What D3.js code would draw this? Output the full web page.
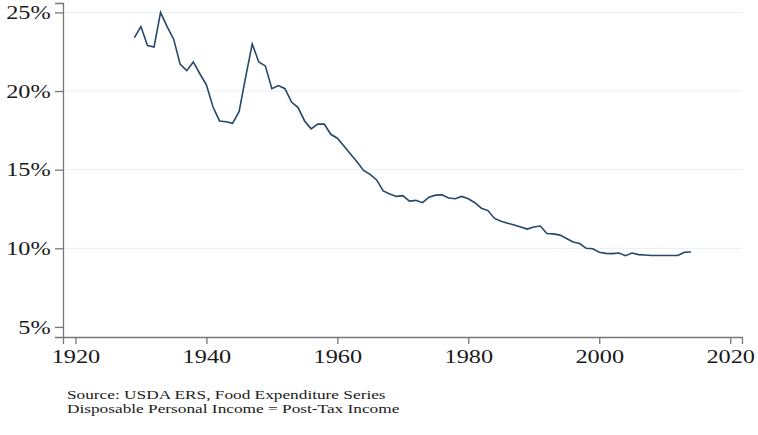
<!DOCTYPE html>
<html lang="en">
<head>
    <meta charset="UTF-8">
    <title>Food Expenditure Share of Disposable Income</title>
    <script src="https://d3js.org/d3.v7.min.js"></script>
    <style>
        body {
            margin: 0;
            background: #fff;
        }
        .grid line {
            stroke: #e5eef1;
            stroke-width: 1;
        }
        .axis path, .axis line {
            stroke: #777;
            stroke-width: 1.3;
        }
        .line {
            fill: none;
            stroke: #24476b;
            stroke-width: 1.6;
        }
    </style>
</head>
<body>
    <script>
        // Food spending as a share of disposable personal income (%)
        const years = d3.range(1929, 2015);
        const shares = [
            23.4, 24.1, 22.9, 22.8, 25.0, 24.1, 23.3, 21.7, 21.3, 21.85,
            21.1, 20.4, 19.0, 18.1, 18.05, 17.95, 18.7, 20.9, 23.0, 21.85,
            21.6, 20.15, 20.35, 20.15, 19.3, 18.95, 18.1, 17.6, 17.9, 17.9,
            17.25, 17.0, 16.5, 16.0, 15.5, 14.95, 14.7, 14.35, 13.65, 13.45,
            13.3, 13.35, 13.0, 13.05, 12.9, 13.25, 13.38, 13.4, 13.2, 13.15,
            13.3, 13.15, 12.9, 12.55, 12.4, 11.9, 11.72, 11.6, 11.48, 11.36,
            11.22, 11.36, 11.42, 10.94, 10.92, 10.84, 10.62, 10.4, 10.3, 10.0,
            9.97, 9.75, 9.68, 9.66, 9.7, 9.53, 9.7, 9.6, 9.57, 9.54,
            9.54, 9.54, 9.54, 9.54, 9.75, 9.77
        ];
        const yTicks = [5, 10, 15, 20, 25];
        const xTicks = [1920, 1940, 1960, 1980, 2000, 2020];
        const notes = [
            "Source: USDA ERS, Food Expenditure Series",
            "Disposable Personal Income = Post-Tax Income"
        ];

        const width = 758, height = 435;
        const margin = {left: 63, right: 16, top: 3, bottom: 98};
        const serif = "'Liberation Serif', 'Times New Roman', Tinos, 'DejaVu Serif', serif";
        const stretch = 1.28; // the original text is drawn wide

        const svg = d3.select("body").append("svg")
            .attr("width", width)
            .attr("height", height);

        const x = d3.scaleLinear()
            .domain([1918.1, 2021.8])
            .range([margin.left, width - margin.right]);

        const y = d3.scaleLinear()
            .domain([4.36, 25.6])
            .range([height - margin.bottom, margin.top]);

        // horizontal gridlines
        svg.append("g")
            .attr("class", "grid")
            .selectAll("line")
            .data(yTicks.filter(d => d > 5))
            .join("line")
            .attr("x1", margin.left)
            .attr("x2", width - margin.right)
            .attr("y1", d => y(d))
            .attr("y2", d => y(d));

        // axes
        const xAxis = svg.append("g")
            .attr("class", "axis")
            .attr("transform", `translate(0,${height - margin.bottom})`)
            .call(d3.axisBottom(x).tickValues(xTicks).tickFormat(d3.format("d"))
                .tickSizeOuter(0).tickSize(7).tickPadding(6));

        const yAxis = svg.append("g")
            .attr("class", "axis")
            .attr("transform", `translate(${margin.left},0)`)
            .call(d3.axisLeft(y).tickValues(yTicks).tickFormat(d => d + "%")
                .tickSizeOuter(0).tickSize(8).tickPadding(4));

        [xAxis, yAxis].forEach(g => g.selectAll("text")
            .style("font-family", serif)
            .style("font-size", "19px")
            .style("fill", "#1a1a1a")
            .attr("transform", `scale(${stretch},1)`));

        yAxis.selectAll("text").attr("x", -12.3 / stretch);

        // data line
        const line = d3.line()
            .x((d, i) => x(years[i]))
            .y(d => y(d));

        svg.append("path")
            .datum(shares)
            .attr("class", "line")
            .attr("d", line);

        // source notes
        svg.selectAll(".note")
            .data(notes)
            .join("text")
            .attr("class", "note")
            .attr("transform", `scale(${stretch},1)`)
            .attr("x", 67 / stretch)
            .attr("y", (d, i) => 399.5 + i * 14)
            .style("font-family", serif)
            .style("font-size", "13.5px")
            .style("fill", "#1a1a1a")
            .text(d => d);
    </script>
</body>
</html>
